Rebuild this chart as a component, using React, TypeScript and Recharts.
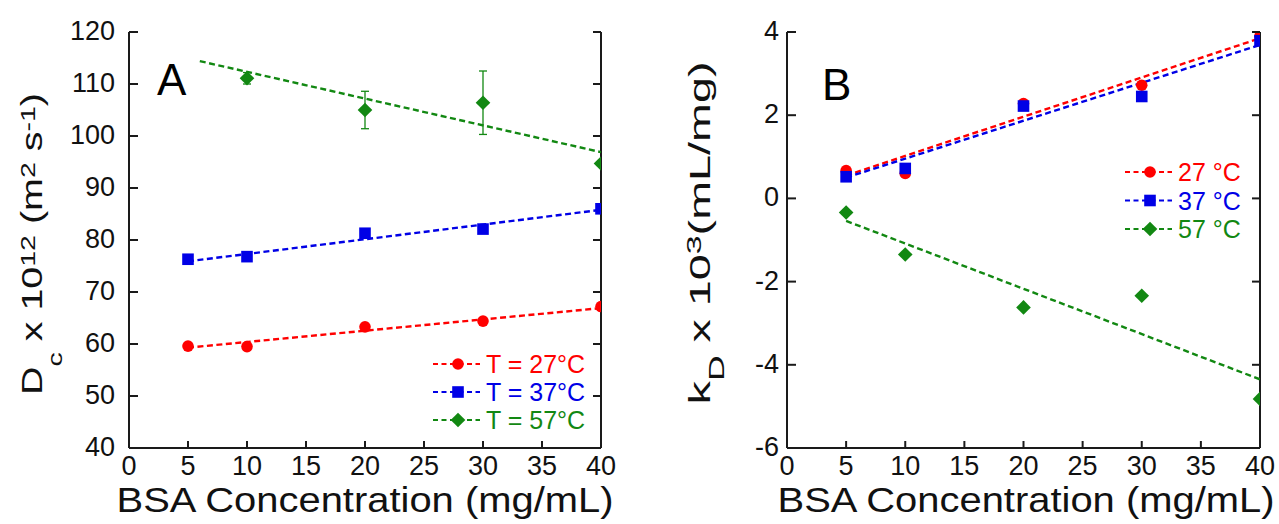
import React from 'react';
import { ComposedChart, Scatter, XAxis, YAxis, ErrorBar, Legend, Label, Customized } from 'recharts';

// ---------- data ----------
const concentrations = [5, 10, 20, 30, 40];
const xTicks = [0, 5, 10, 15, 20, 25, 30, 35, 40];
const dcTicks = [40, 50, 60, 70, 80, 90, 100, 110, 120];
const kdTicks = [-6, -4, -2, 0, 2, 4];

// Panel A: Dc x 10^12 (m^2 s^-1)
const dc27 = [59.6, 59.5, 63.3, 64.4, 67.2];
const dc37 = [76.3, 76.8, 81.3, 82.1, 86.0];
const dc57Conc = [10, 20, 30, 40];
const dc57 = [111.1, 105.0, 106.4, 94.7];
const dc57Err = [1.1, 3.6, 6.1, 0];

const fitConc = [5, 40];
const dc27Fit = [59.3, 66.9];
const dc37Fit = [75.9, 85.8];
const dc57FitConc = [6, 40];
const dc57Fit = [114.4, 96.9];

// Panel B: kD x 10^3 (mL/mg)
const kd27 = [0.67, 0.6, 2.28, 2.72, 3.9];
const kd37 = [0.52, 0.72, 2.22, 2.45, 3.79];
const kd57 = [-0.34, -1.35, -2.62, -2.34, -4.82];
const kd27Fit = [0.55, 3.85];
const kd37Fit = [0.5, 3.69];
const kd57Fit = [-0.54, -4.35];

const namesA = ['T = 27°C', 'T = 37°C', 'T = 57°C'];
const namesB = ['27 °C', '37 °C', '57 °C'];

// ---------- style ----------
const FONT = '"Liberation Sans", Arial, sans-serif';
const AX = '#1a1a1a';
const RED = '#ff0000';
const BLUE = '#0000e6';
const GREEN = '#128812';
const COLORS = [RED, BLUE, GREEN];
const DASH = '6 3.5';
const LW = 2.4;

const pts = (xs: number[], ys: number[], err?: number[]) =>
  xs.map((x, i) => ({ x, y: ys[i], err: err ? err[i] : undefined }));

// markers
const drawMarker = (kind: number, cx: number, cy: number, color: string) => {
  if (kind === 0) return <circle cx={cx} cy={cy} r={5.8} fill={color} />;
  if (kind === 1) return <rect x={cx - 5.8} y={cy - 5.8} width={11.6} height={11.6} fill={color} />;
  return (
    <polygon
      points={`${cx},${cy - 7.3} ${cx + 7.3},${cy} ${cx},${cy + 7.3} ${cx - 7.3},${cy}`}
      fill={color}
    />
  );
};
const markerShape = (kind: number, color: string) => (p: any) => drawMarker(kind, p.cx, p.cy, color);
const noShape = () => <g />;

// ticks
const makeLeftTick = (gap: number) => (props: any) => {
  const { x, y, payload } = props;
  return (
    <g>
      <line x1={x} x2={x + 9} y1={y} y2={y} stroke={AX} strokeWidth={2} />
      <text x={x - gap} y={y + 8} textAnchor="end" fontSize={27} fontFamily={FONT} fill="#111">
        {payload.value}
      </text>
    </g>
  );
};
const RightTick = (props: any) => {
  const { x, y } = props;
  return <line x1={x - 8} x2={x} y1={y} y2={y} stroke={AX} strokeWidth={2} />;
};
const XTick = (props: any) => {
  const { x, y, payload } = props;
  return (
    <g>
      <line x1={x} x2={x} y1={y - 7} y2={y} stroke={AX} strokeWidth={2} />
      <text x={x} y={y + 27} textAnchor="middle" fontSize={27} fontFamily={FONT} fill="#111">
        {payload.value}
      </text>
    </g>
  );
};

const makeLegend = (names: string[], rowGap: number) => () => (
  <svg width={200} height={95} style={{ display: 'block' }}>
    {names.map((n, i) => {
      const cy = 14 + i * rowGap;
      return (
        <g key={n}>
          <line x1={0} x2={47} y1={cy} y2={cy} stroke={COLORS[i]} strokeWidth={2.2} strokeDasharray="5 3.5" />
          {drawMarker(i, 25, cy, COLORS[i])}
          <text x={53} y={cy + 9} fontSize={25} fontFamily={FONT} fill={COLORS[i]}>
            {n}
          </text>
        </g>
      );
    })}
  </svg>
);

const xTitle = (cx: number) => () => (
  <text
    x={cx}
    y={512}
    textAnchor="middle"
    fontSize={35}
    fontFamily={FONT}
    fill="#111"
    textLength={497}
    lengthAdjust="spacingAndGlyphs"
  >
    BSA Concentration (mg/mL)
  </text>
);

const yTitleA = () => {
  const cx = 42;
  const cy = 244;
  return (
    <text
      transform={`rotate(-90 ${cx} ${cy})`}
      x={cx}
      y={cy}
      textAnchor="middle"
      fontSize={29}
      fontFamily={FONT}
      fill="#111"
      textLength={302}
      lengthAdjust="spacingAndGlyphs"
    >
      <tspan>D</tspan>
      <tspan fontSize={21} dy={20}>c</tspan>
      <tspan dy={-20}>{' x 10'}</tspan>
      <tspan fontSize={21} dy={-7}>12</tspan>
      <tspan dy={7}>{' (m'}</tspan>
      <tspan fontSize={21} dy={-7}>2</tspan>
      <tspan dy={7}>{' s'}</tspan>
      <tspan fontSize={21} dy={-7}>-1</tspan>
      <tspan dy={7}>)</tspan>
    </text>
  );
};

const yTitleB = () => {
  const cx = 70;
  const cy = 233;
  return (
    <text
      transform={`rotate(-90 ${cx} ${cy})`}
      x={cx}
      y={cy}
      textAnchor="middle"
      fontSize={29}
      fontFamily={FONT}
      fill="#111"
      textLength={343}
      lengthAdjust="spacingAndGlyphs"
    >
      <tspan>k</tspan>
      <tspan fontSize={22} dy={14}>D</tspan>
      <tspan dy={-14}>{' x 10'}</tspan>
      <tspan fontSize={21} dy={-9}>3</tspan>
      <tspan dy={9}>(mL/mg)</tspan>
    </text>
  );
};

const panelLetter = (letter: string, x: number, y: number) => () => (
  <text x={x} y={y} fontSize={44} fontFamily={FONT} fill="#000">
    {letter}
  </text>
);

const axisLine = { stroke: AX, strokeWidth: 2 };
const fitLine = (c: string) => ({ stroke: c, strokeWidth: LW, strokeDasharray: DASH });

function PanelA() {
  return (
    <ComposedChart width={640} height={524} margin={{ top: 32, right: 38, bottom: 75, left: 128 }}>
      <XAxis
        type="number"
        dataKey="x"
        domain={[0, 40]}
        ticks={xTicks}
        interval={0}
        height={1}
        tickSize={0}
        tickMargin={0}
        tick={XTick}
        axisLine={axisLine}
        allowDataOverflow
      >
        <Label content={xTitle(365)} />
      </XAxis>
      <YAxis
        type="number"
        dataKey="y"
        domain={[40, 120]}
        ticks={dcTicks}
        interval={0}
        width={1}
        tickSize={0}
        tickMargin={0}
        tick={makeLeftTick(14)}
        axisLine={axisLine}
        allowDataOverflow
      >
        <Label content={yTitleA} />
      </YAxis>
      <YAxis
        yAxisId="r"
        orientation="right"
        type="number"
        domain={[40, 120]}
        ticks={dcTicks}
        interval={0}
        width={1}
        tickSize={0}
        tickMargin={0}
        tick={RightTick}
        axisLine={axisLine}
        allowDataOverflow
      />
      <Scatter data={pts(fitConc, dc27Fit)} fill={RED} line={fitLine(RED)} shape={noShape} legendType="none" isAnimationActive={false} />
      <Scatter data={pts(fitConc, dc37Fit)} fill={BLUE} line={fitLine(BLUE)} shape={noShape} legendType="none" isAnimationActive={false} />
      <Scatter data={pts(dc57FitConc, dc57Fit)} fill={GREEN} line={fitLine(GREEN)} shape={noShape} legendType="none" isAnimationActive={false} />
      <Scatter name={namesA[0]} data={pts(concentrations, dc27)} fill={RED} shape={markerShape(0, RED)} isAnimationActive={false} />
      <Scatter name={namesA[1]} data={pts(concentrations, dc37)} fill={BLUE} shape={markerShape(1, BLUE)} isAnimationActive={false} />
      <Scatter name={namesA[2]} data={pts(dc57Conc, dc57, dc57Err)} fill={GREEN} shape={markerShape(2, GREEN)} isAnimationActive={false}>
        <ErrorBar dataKey="err" direction="y" width={4} stroke={GREEN} strokeWidth={1.3} />
      </Scatter>
      <Legend
        layout="vertical"
        align="center"
        verticalAlign="middle"
        content={makeLegend(namesA, 28)}
        wrapperStyle={{ position: 'absolute', left: 433, top: 350, width: 200, height: 95 }}
      />
      <Customized component={panelLetter('A', 157, 95)} />
    </ComposedChart>
  );
}

function PanelB() {
  return (
    <ComposedChart width={639} height={524} margin={{ top: 32, right: 18, bottom: 75, left: 146 }}>
      <XAxis
        type="number"
        dataKey="x"
        domain={[0, 40]}
        ticks={xTicks}
        interval={0}
        height={1}
        tickSize={0}
        tickMargin={0}
        tick={XTick}
        axisLine={axisLine}
        allowDataOverflow
      >
        <Label content={xTitle(386)} />
      </XAxis>
      <YAxis
        type="number"
        dataKey="y"
        domain={[-6, 4]}
        ticks={kdTicks}
        interval={0}
        width={1}
        tickSize={0}
        tickMargin={0}
        tick={makeLeftTick(8)}
        axisLine={axisLine}
        allowDataOverflow
      >
        <Label content={yTitleB} />
      </YAxis>
      <YAxis
        yAxisId="r"
        orientation="right"
        type="number"
        domain={[-6, 4]}
        ticks={kdTicks}
        interval={0}
        width={1}
        tickSize={0}
        tickMargin={0}
        tick={RightTick}
        axisLine={axisLine}
        allowDataOverflow
      />
      <Scatter data={pts(fitConc, kd27Fit)} fill={RED} line={fitLine(RED)} shape={noShape} legendType="none" isAnimationActive={false} />
      <Scatter data={pts(fitConc, kd37Fit)} fill={BLUE} line={fitLine(BLUE)} shape={noShape} legendType="none" isAnimationActive={false} />
      <Scatter data={pts(fitConc, kd57Fit)} fill={GREEN} line={fitLine(GREEN)} shape={noShape} legendType="none" isAnimationActive={false} />
      <Scatter name={namesB[0]} data={pts(concentrations, kd27)} fill={RED} shape={markerShape(0, RED)} isAnimationActive={false} />
      <Scatter name={namesB[1]} data={pts(concentrations, kd37)} fill={BLUE} shape={markerShape(1, BLUE)} isAnimationActive={false} />
      <Scatter name={namesB[2]} data={pts(concentrations, kd57)} fill={GREEN} shape={markerShape(2, GREEN)} isAnimationActive={false} />
      <Legend
        layout="vertical"
        align="center"
        verticalAlign="middle"
        content={makeLegend(namesB, 28.5)}
        wrapperStyle={{ position: 'absolute', left: 485, top: 158, width: 200, height: 95 }}
      />
      <Customized component={panelLetter('B', 182, 100)} />
    </ComposedChart>
  );
}

export default function App() {
  return (
    <div style={{ position: 'absolute', left: 0, top: 0, width: 1279, height: 524, background: '#fff', overflow: 'hidden' }}>
      <div style={{ position: 'absolute', left: 0, top: 0 }}>
        <PanelA />
      </div>
      <div style={{ position: 'absolute', left: 640, top: 0 }}>
        <PanelB />
      </div>
    </div>
  );
}
